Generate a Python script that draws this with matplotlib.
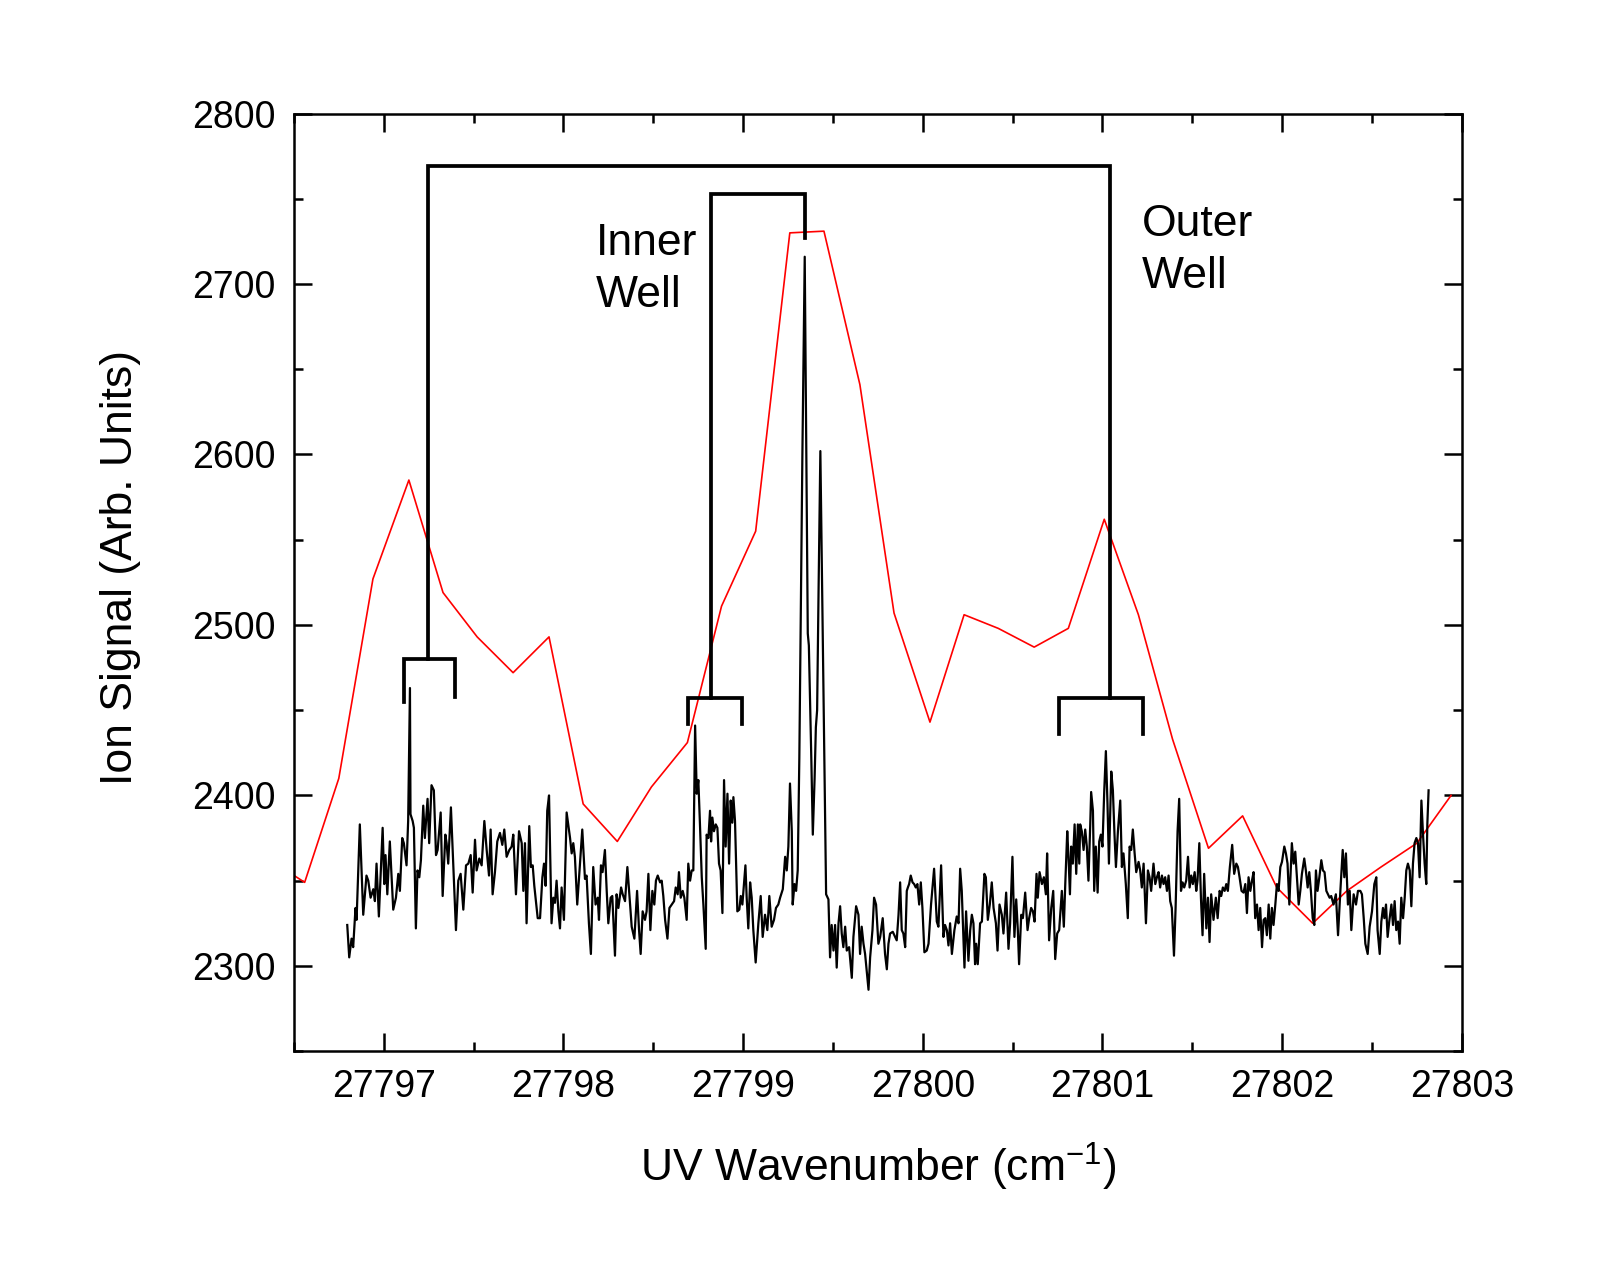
import matplotlib
matplotlib.use('Agg')
import matplotlib.pyplot as plt
from matplotlib.ticker import MultipleLocator, FormatStrFormatter

plt.rcParams['font.family'] = ['Liberation Sans', 'DejaVu Sans']
plt.rcParams['mathtext.fontset'] = 'custom'
plt.rcParams['mathtext.rm'] = 'Liberation Sans'

# red trace: coarse scan (wavenumber, ion signal)
coarse_wn = [27796.37, 27796.56, 27796.75, 27796.94, 27797.14, 27797.33, 27797.52,
             27797.72, 27797.92, 27798.11, 27798.30, 27798.49, 27798.69, 27798.88,
             27799.07, 27799.26, 27799.45, 27799.65, 27799.84, 27800.04, 27800.23,
             27800.42, 27800.62, 27800.81, 27801.01, 27801.20, 27801.39, 27801.59,
             27801.78, 27801.97, 27802.17, 27802.36, 27802.55, 27802.75, 27802.94]
coarse_sig = [2362, 2349, 2410, 2527, 2585, 2519, 2493,
              2472, 2493, 2395, 2373, 2405, 2431, 2511,
              2555, 2730, 2731, 2641, 2507, 2443, 2506,
              2498, 2487, 2498, 2562, 2506, 2433, 2369,
              2388, 2346, 2325, 2344, 2358, 2372, 2400]

# black trace: high resolution scan in pieces
scan_a = [(27796.797, 2324), (27796.808, 2305), (27796.821, 2316), (27796.830, 2311),
          (27796.843, 2334), (27796.849, 2327), (27796.867, 2383), (27796.886, 2330),
          (27796.904, 2353), (27796.914, 2350), (27796.927, 2340), (27796.942, 2345),
          (27796.951, 2338), (27796.960, 2360), (27796.973, 2329), (27796.994, 2381),
          (27797.003, 2348), (27797.010, 2365), (27797.020, 2342), (27797.034, 2373),
          (27797.053, 2333), (27797.068, 2340), (27797.081, 2354), (27797.090, 2344),
          (27797.103, 2375), (27797.112, 2372), (27797.127, 2359), (27797.136, 2385),
          (27797.146, 2463), (27797.149, 2389), (27797.161, 2385), (27797.168, 2381),
          (27797.179, 2322), (27797.188, 2356), (27797.198, 2352), (27797.207, 2362),
          (27797.220, 2394), (27797.229, 2375), (27797.244, 2398), (27797.253, 2372),
          (27797.266, 2406), (27797.279, 2403), (27797.291, 2365), (27797.300, 2368),
          (27797.317, 2390), (27797.328, 2341), (27797.343, 2377), (27797.350, 2372),
          (27797.359, 2360), (27797.374, 2393), (27797.387, 2360), (27797.402, 2321),
          (27797.415, 2350), (27797.428, 2354), (27797.443, 2333), (27797.458, 2359),
          (27797.471, 2360), (27797.484, 2365), (27797.495, 2343), (27797.508, 2374),
          (27797.517, 2356), (27797.532, 2363), (27797.545, 2359), (27797.560, 2385),
          (27797.573, 2368), (27797.586, 2353), (27797.595, 2380), (27797.606, 2342),
          (27797.619, 2355), (27797.632, 2373), (27797.647, 2378), (27797.660, 2371),
          (27797.671, 2380), (27797.684, 2364), (27797.699, 2368), (27797.712, 2370),
          (27797.721, 2377), (27797.736, 2342), (27797.753, 2379), (27797.768, 2372),
          (27797.777, 2344), (27797.786, 2372)]
scan_b = [(27797.795, 2325), (27797.810, 2382), (27797.819, 2358), (27797.829, 2359),
          (27797.838, 2347), (27797.857, 2328), (27797.870, 2328), (27797.883, 2352),
          (27797.892, 2360), (27797.901, 2347), (27797.910, 2391), (27797.920, 2400),
          (27797.934, 2325), (27797.944, 2340), (27797.953, 2337), (27797.962, 2350),
          (27797.972, 2332), (27797.981, 2322), (27797.990, 2346), (27798.003, 2327),
          (27798.018, 2390), (27798.027, 2383), (27798.037, 2375), (27798.046, 2366),
          (27798.055, 2372), (27798.064, 2364), (27798.077, 2336), (27798.092, 2360),
          (27798.105, 2380), (27798.120, 2351), (27798.129, 2353), (27798.142, 2325),
          (27798.153, 2307), (27798.166, 2358), (27798.179, 2336), (27798.191, 2340),
          (27798.198, 2327), (27798.209, 2359), (27798.218, 2355), (27798.231, 2368),
          (27798.241, 2344), (27798.250, 2325), (27798.263, 2340), (27798.272, 2341),
          (27798.287, 2306), (27798.296, 2342), (27798.306, 2334), (27798.321, 2346),
          (27798.330, 2342), (27798.343, 2338), (27798.356, 2358), (27798.371, 2336),
          (27798.380, 2323), (27798.395, 2316), (27798.410, 2344), (27798.421, 2321),
          (27798.430, 2307), (27798.441, 2332), (27798.454, 2327), (27798.463, 2332),
          (27798.473, 2354), (27798.484, 2321), (27798.495, 2344), (27798.506, 2336),
          (27798.515, 2350), (27798.525, 2353), (27798.538, 2349), (27798.547, 2350),
          (27798.556, 2341), (27798.566, 2327), (27798.579, 2316), (27798.590, 2334),
          (27798.603, 2336), (27798.616, 2338), (27798.625, 2346), (27798.636, 2342),
          (27798.643, 2355), (27798.653, 2340), (27798.664, 2344), (27798.673, 2340),
          (27798.686, 2327), (27798.695, 2360), (27798.705, 2350), (27798.714, 2356),
          (27798.723, 2356), (27798.733, 2441), (27798.742, 2401), (27798.751, 2409),
          (27798.760, 2383), (27798.770, 2352), (27798.779, 2336), (27798.792, 2310),
          (27798.797, 2377), (27798.807, 2375)]
scan_c = [(27798.816, 2391), (27798.822, 2373), (27798.829, 2387), (27798.838, 2379),
          (27798.848, 2383), (27798.857, 2381), (27798.866, 2360), (27798.875, 2356),
          (27798.885, 2331), (27798.894, 2409), (27798.903, 2370), (27798.913, 2401),
          (27798.922, 2360), (27798.931, 2397), (27798.940, 2384), (27798.946, 2399),
          (27798.955, 2385), (27798.968, 2332), (27798.979, 2333), (27798.987, 2341),
          (27798.996, 2336), (27799.005, 2348), (27799.013, 2359), (27799.020, 2340),
          (27799.029, 2322), (27799.039, 2349), (27799.048, 2340), (27799.057, 2321),
          (27799.070, 2302), (27799.085, 2325), (27799.098, 2341), (27799.109, 2317),
          (27799.122, 2330), (27799.135, 2321), (27799.146, 2341), (27799.159, 2323),
          (27799.172, 2327), (27799.183, 2334), (27799.196, 2336), (27799.206, 2340),
          (27799.221, 2345), (27799.234, 2364), (27799.243, 2356), (27799.252, 2370),
          (27799.261, 2407), (27799.271, 2379), (27799.276, 2336), (27799.286, 2348),
          (27799.295, 2344), (27799.304, 2356), (27799.313, 2422), (27799.330, 2600),
          (27799.343, 2716), (27799.352, 2600), (27799.360, 2495), (27799.366, 2488),
          (27799.380, 2420), (27799.388, 2377), (27799.398, 2410), (27799.405, 2440),
          (27799.412, 2450), (27799.420, 2520), (27799.430, 2602), (27799.440, 2520),
          (27799.452, 2420), (27799.462, 2342), (27799.475, 2339), (27799.484, 2305),
          (27799.493, 2324), (27799.503, 2309), (27799.512, 2324), (27799.521, 2299),
          (27799.531, 2325), (27799.540, 2335), (27799.549, 2319), (27799.558, 2311),
          (27799.568, 2323), (27799.577, 2309), (27799.590, 2311), (27799.605, 2293),
          (27799.614, 2317), (27799.629, 2335), (27799.642, 2330), (27799.651, 2307),
          (27799.660, 2323), (27799.670, 2313), (27799.679, 2307), (27799.698, 2286),
          (27799.707, 2305), (27799.720, 2321), (27799.729, 2340), (27799.740, 2336),
          (27799.753, 2313), (27799.763, 2317), (27799.777, 2328), (27799.790, 2307),
          (27799.800, 2298), (27799.809, 2313), (27799.818, 2319), (27799.833, 2320)]
scan_d = [(27799.846, 2317), (27799.855, 2315), (27799.865, 2330), (27799.874, 2349),
          (27799.883, 2321), (27799.892, 2319), (27799.902, 2311), (27799.911, 2344),
          (27799.917, 2346), (27799.924, 2348), (27799.933, 2353), (27799.943, 2349),
          (27799.952, 2348), (27799.961, 2346), (27799.970, 2348), (27799.980, 2336),
          (27799.989, 2349), (27799.998, 2334), (27800.009, 2308), (27800.022, 2309),
          (27800.032, 2313), (27800.046, 2336), (27800.063, 2357), (27800.078, 2326),
          (27800.087, 2323), (27800.102, 2359), (27800.115, 2317), (27800.124, 2324),
          (27800.134, 2321), (27800.143, 2312), (27800.152, 2325), (27800.162, 2307),
          (27800.176, 2321), (27800.189, 2329), (27800.199, 2325), (27800.208, 2357),
          (27800.217, 2344), (27800.232, 2299), (27800.241, 2332), (27800.254, 2303),
          (27800.264, 2321), (27800.273, 2330), (27800.282, 2325), (27800.291, 2301),
          (27800.297, 2313), (27800.306, 2301), (27800.319, 2325), (27800.329, 2326),
          (27800.343, 2354), (27800.351, 2352), (27800.362, 2327), (27800.373, 2336),
          (27800.384, 2349), (27800.394, 2334), (27800.407, 2325), (27800.416, 2309),
          (27800.427, 2336), (27800.440, 2330), (27800.449, 2319), (27800.464, 2343),
          (27800.477, 2310), (27800.486, 2325), (27800.499, 2364), (27800.510, 2317),
          (27800.520, 2339), (27800.529, 2321), (27800.536, 2301), (27800.548, 2330),
          (27800.557, 2328), (27800.570, 2343), (27800.583, 2321), (27800.592, 2328),
          (27800.603, 2334), (27800.613, 2332), (27800.622, 2326), (27800.633, 2354),
          (27800.640, 2340), (27800.650, 2355), (27800.663, 2348), (27800.674, 2352),
          (27800.685, 2342), (27800.692, 2366), (27800.703, 2315), (27800.715, 2334),
          (27800.726, 2344), (27800.737, 2304), (27800.748, 2319), (27800.759, 2321),
          (27800.774, 2344), (27800.785, 2323), (27800.793, 2348), (27800.804, 2379),
          (27800.811, 2364), (27800.819, 2342), (27800.826, 2370), (27800.835, 2360),
          (27800.845, 2383), (27800.854, 2354), (27800.863, 2383), (27800.871, 2360)]
scan_e = [(27800.876, 2383), (27800.885, 2379), (27800.895, 2368), (27800.904, 2380),
          (27800.913, 2370), (27800.922, 2350), (27800.932, 2383), (27800.937, 2402),
          (27800.947, 2391), (27800.954, 2344), (27800.963, 2370), (27800.973, 2343),
          (27800.982, 2373), (27800.991, 2377), (27801.000, 2370), (27801.010, 2403),
          (27801.019, 2426), (27801.028, 2395), (27801.036, 2360), (27801.049, 2414),
          (27801.058, 2403), (27801.067, 2377), (27801.075, 2358), (27801.086, 2379),
          (27801.099, 2397), (27801.108, 2358), (27801.117, 2366), (27801.130, 2348),
          (27801.141, 2328), (27801.151, 2370), (27801.160, 2368), (27801.169, 2380),
          (27801.179, 2366), (27801.188, 2355), (27801.201, 2361), (27801.210, 2356),
          (27801.219, 2346), (27801.229, 2360), (27801.242, 2325), (27801.253, 2356),
          (27801.262, 2352), (27801.271, 2344), (27801.284, 2360), (27801.294, 2348),
          (27801.303, 2352), (27801.312, 2355), (27801.321, 2346), (27801.331, 2353),
          (27801.340, 2348), (27801.349, 2352), (27801.359, 2344), (27801.368, 2353),
          (27801.377, 2338), (27801.386, 2334), (27801.398, 2306), (27801.407, 2334),
          (27801.418, 2379), (27801.427, 2398), (27801.437, 2344), (27801.446, 2349),
          (27801.455, 2346), (27801.466, 2350), (27801.476, 2364), (27801.485, 2346),
          (27801.494, 2353), (27801.503, 2348), (27801.513, 2355), (27801.522, 2344),
          (27801.529, 2350), (27801.539, 2372), (27801.548, 2340), (27801.557, 2318),
          (27801.566, 2354), (27801.578, 2322), (27801.587, 2340), (27801.596, 2314),
          (27801.605, 2342), (27801.618, 2327), (27801.631, 2340), (27801.641, 2328),
          (27801.652, 2344), (27801.661, 2341), (27801.670, 2346), (27801.680, 2344),
          (27801.689, 2348), (27801.698, 2344), (27801.709, 2358), (27801.722, 2371),
          (27801.733, 2354), (27801.745, 2360), (27801.754, 2358), (27801.763, 2352),
          (27801.774, 2344), (27801.785, 2343), (27801.795, 2348), (27801.804, 2331),
          (27801.813, 2352), (27801.823, 2344), (27801.832, 2350), (27801.841, 2355),
          (27801.850, 2328), (27801.860, 2336), (27801.869, 2321), (27801.878, 2334),
          (27801.888, 2311), (27801.897, 2327)]
scan_f = [(27801.906, 2328), (27801.915, 2318), (27801.925, 2336), (27801.934, 2316),
          (27801.943, 2334), (27801.952, 2324), (27801.962, 2336), (27801.971, 2348),
          (27801.980, 2344), (27801.990, 2358), (27801.999, 2361), (27802.012, 2370),
          (27802.021, 2366), (27802.030, 2360), (27802.040, 2336), (27802.054, 2372),
          (27802.064, 2360), (27802.073, 2367), (27802.082, 2352), (27802.092, 2336),
          (27802.101, 2344), (27802.110, 2354), (27802.123, 2363), (27802.132, 2356),
          (27802.142, 2346), (27802.151, 2355), (27802.160, 2344), (27802.170, 2328),
          (27802.179, 2324), (27802.188, 2356), (27802.197, 2344), (27802.207, 2352),
          (27802.218, 2362), (27802.227, 2356), (27802.236, 2355), (27802.246, 2344),
          (27802.255, 2342), (27802.264, 2340), (27802.273, 2341), (27802.286, 2336),
          (27802.299, 2342), (27802.311, 2318), (27802.324, 2344), (27802.337, 2368),
          (27802.346, 2352), (27802.355, 2366), (27802.366, 2336), (27802.376, 2344),
          (27802.385, 2321), (27802.398, 2342), (27802.411, 2336), (27802.422, 2344),
          (27802.435, 2344), (27802.444, 2342), (27802.454, 2328), (27802.463, 2313),
          (27802.476, 2307), (27802.487, 2323), (27802.500, 2332), (27802.513, 2348),
          (27802.524, 2352), (27802.531, 2321), (27802.543, 2307), (27802.552, 2326),
          (27802.561, 2334), (27802.569, 2328), (27802.578, 2336), (27802.587, 2317),
          (27802.596, 2326), (27802.608, 2336), (27802.617, 2324), (27802.626, 2338),
          (27802.635, 2321), (27802.645, 2326), (27802.654, 2313), (27802.663, 2340),
          (27802.673, 2328), (27802.682, 2340), (27802.691, 2356), (27802.700, 2360),
          (27802.710, 2356), (27802.719, 2335), (27802.728, 2360), (27802.737, 2372),
          (27802.747, 2375), (27802.756, 2372), (27802.765, 2352), (27802.775, 2397),
          (27802.784, 2377), (27802.793, 2360), (27802.802, 2348), (27802.808, 2383),
          (27802.815, 2403)]

# assignment combs (x list, y list) in data units
outer_comb = ([27797.246, 27797.246, 27801.041, 27801.041], [2480, 2769, 2769, 2457])
outer_left = ([27797.114, 27797.114, 27797.399, 27797.399], [2455, 2480, 2480, 2458])
outer_right = ([27800.756, 27800.756, 27801.223, 27801.223], [2436, 2457, 2457, 2436])
inner_comb = ([27798.824, 27798.824, 27799.343, 27799.343], [2457, 2753, 2753, 2727])
inner_left = ([27798.693, 27798.693, 27798.995, 27798.995], [2442, 2457, 2457, 2442])

fig = plt.figure(figsize=(16.05, 12.8), dpi=100)
ax = fig.add_axes([0.1831, 0.1788, 0.7277, 0.7325])

ax.plot(coarse_wn, coarse_sig, color='red', lw=1.2, zorder=2)

trace = scan_a + scan_b + scan_c + scan_d + scan_e + scan_f
wn = [p[0] for p in trace]
sig = [p[1] for p in trace]
ax.plot(wn, sig, color='black', lw=1.6, zorder=3)

for xs, ys in (outer_comb, outer_left, outer_right, inner_comb, inner_left):
    ax.plot(xs, ys, color='black', lw=2.7, solid_joinstyle='miter', zorder=4)

ax.text(27798.18, 2736, 'Inner\nWell', fontsize=32, va='top', ha='left', linespacing=1.35)
ax.text(27801.22, 2747, 'Outer\nWell', fontsize=32, va='top', ha='left', linespacing=1.35)

ax.set_xlim(27796.5, 27803)
ax.set_ylim(2250, 2800)
ax.xaxis.set_major_locator(MultipleLocator(1))
ax.xaxis.set_minor_locator(MultipleLocator(0.5))
ax.yaxis.set_major_locator(MultipleLocator(100))
ax.yaxis.set_minor_locator(MultipleLocator(50))
ax.xaxis.set_major_formatter(FormatStrFormatter('%d'))
ax.yaxis.set_major_formatter(FormatStrFormatter('%d'))
ax.tick_params(which='both', direction='in', top=True, right=True, width=1.8)
ax.tick_params(which='major', length=13, labelsize=27, pad=13)
ax.tick_params(which='minor', length=6.5)
for s in ax.spines.values():
    s.set_linewidth(1.8)

ax.set_xlabel(r'UV Wavenumber (cm$^{\mathregular{-1}}$)', fontsize=32, labelpad=26)
ax.set_ylabel('Ion Signal (Arb. Units)', fontsize=32)
ax.yaxis.set_label_coords(-0.131, 0.516)

fig.savefig('out.png', dpi=100)
